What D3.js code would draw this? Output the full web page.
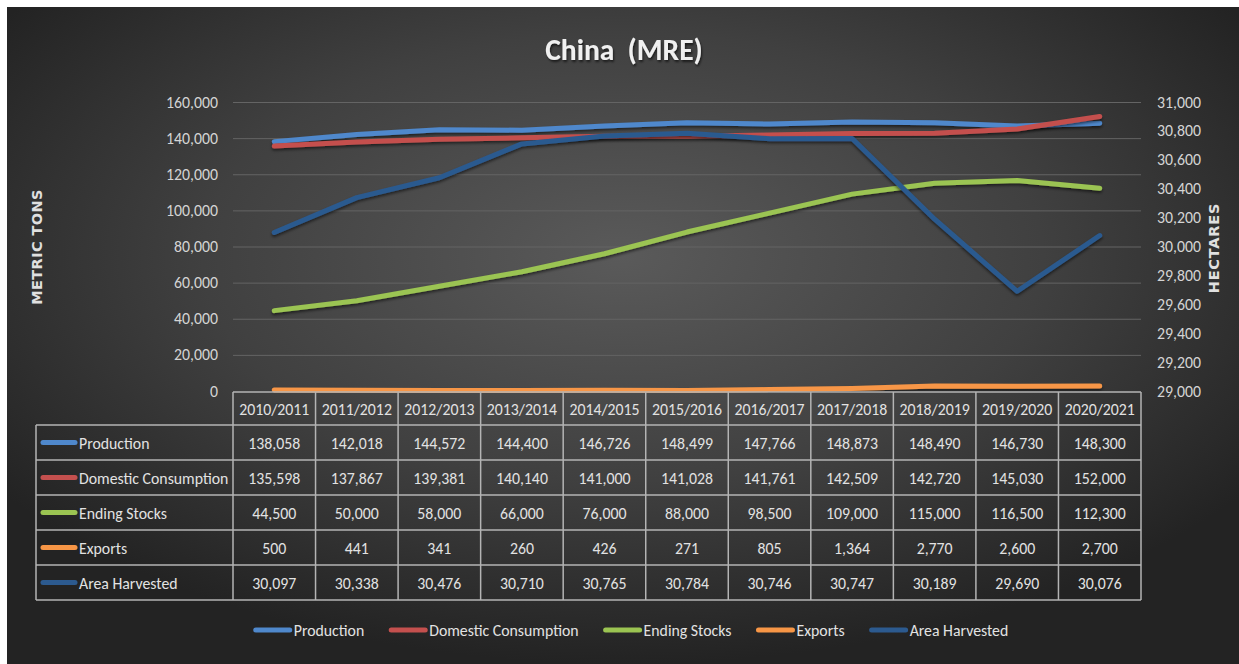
<!DOCTYPE html>
<html>
<head>
<meta charset="utf-8">
<script src="https://cdn.jsdelivr.net/npm/d3@7"></script>
<style>
  html, body { margin: 0; padding: 0; background: #ffffff; }
  svg { display: block; }
  text { font-family: Carlito, "Liberation Sans Narrow", Lato, Roboto, sans-serif; }
</style>
</head>
<body>
<svg id="chart" width="1239" height="664"></svg>
<script>
// Marketing years
const years = ["2010/2011","2011/2012","2012/2013","2013/2014","2014/2015","2015/2016",
               "2016/2017","2017/2018","2018/2019","2019/2020","2020/2021"];

// Metric tons (left axis)
const production  = [138058,142018,144572,144400,146726,148499,147766,148873,148490,146730,148300];
const consumption = [135598,137867,139381,140140,141000,141028,141761,142509,142720,145030,152000];
const stocks      = [44500,50000,58000,66000,76000,88000,98500,109000,115000,116500,112300];
const exportsMT   = [500,441,341,260,426,271,805,1364,2770,2600,2700];

// Hectares (right axis)
const areaHarvested = [30097,30338,30476,30710,30765,30784,30746,30747,30189,29690,30076];

const leftTicks  = [0,20000,40000,60000,80000,100000,120000,140000,160000];
const rightTicks = [29000,29200,29400,29600,29800,30000,30200,30400,30600,30800,31000];

const seriesNames  = ["Production","Domestic Consumption","Ending Stocks","Exports","Area Harvested"];
const seriesColors = ["#4f88cc","#c4504e","#9bc452","#f79646","#2c5a8f"];

const series = [
  { name: seriesNames[0], color: seriesColors[0], values: production,    axis: "left"  },
  { name: seriesNames[1], color: seriesColors[1], values: consumption,   axis: "left"  },
  { name: seriesNames[2], color: seriesColors[2], values: stocks,        axis: "left"  },
  { name: seriesNames[3], color: seriesColors[3], values: exportsMT,     axis: "left"  },
  { name: seriesNames[4], color: seriesColors[4], values: areaHarvested, axis: "right" }
];

const FONT = "Carlito, \"Liberation Sans Narrow\", Lato, Roboto, sans-serif";
const FS = 15.8;
const fmt = d3.format(",");
const svg = d3.select("#chart");
const defs = svg.append("defs");

// Dark radial background
const grad = defs.append("radialGradient").attr("id", "bg")
  .attr("cx", "50%").attr("cy", "38%").attr("r", "62%");
grad.append("stop").attr("offset", "0%").attr("stop-color", "#5a5a5a");
grad.append("stop").attr("offset", "55%").attr("stop-color", "#404040");
grad.append("stop").attr("offset", "100%").attr("stop-color", "#232323");

const shadow = defs.append("filter").attr("id", "shadow")
  .attr("x", "-5%").attr("y", "-50%").attr("width", "110%").attr("height", "200%");
shadow.append("feDropShadow").attr("dx", 0).attr("dy", 2).attr("stdDeviation", 1.5)
  .attr("flood-color", "#000").attr("flood-opacity", 0.55);

const textShadow = defs.append("filter").attr("id", "tshadow")
  .attr("x", "-10%").attr("y", "-30%").attr("width", "120%").attr("height", "160%");
textShadow.append("feDropShadow").attr("dx", 1).attr("dy", 2).attr("stdDeviation", 1)
  .attr("flood-color", "#000").attr("flood-opacity", 0.6);

svg.append("rect").attr("x", 7).attr("y", 7).attr("width", 1232).attr("height", 657)
  .attr("fill", "url(#bg)");

// Plot geometry
const plot = { left: 233, right: 1141, top: 102, bottom: 391 };

const x = d3.scaleBand().domain(years).range([plot.left, plot.right]).padding(0);
const yL = d3.scaleLinear().domain([0, 160000]).range([plot.bottom, plot.top]);
const yR = d3.scaleLinear().domain([29000, 31000]).range([plot.bottom, plot.top]);

// Title
svg.append("text")
  .attr("x", 624).attr("y", 60)
  .attr("text-anchor", "middle")
  .attr("font-size", 29.5).attr("font-weight", "bold")
  .attr("fill", "#f0f0f0")
  .attr("filter", "url(#tshadow)")
  .attr("xml:space", "preserve")
  .text("China  (MRE)");

// Gridlines
svg.append("g")
  .attr("transform", `translate(${plot.left},0)`)
  .call(d3.axisLeft(yL).tickValues(leftTicks.filter(d => d > 0))
          .tickSize(-(plot.right - plot.left)).tickFormat(""))
  .call(g => g.select(".domain").remove())
  .call(g => g.selectAll("line").attr("stroke", "#646464").attr("stroke-width", 1));

// Left axis labels
svg.append("g")
  .attr("transform", `translate(${plot.left - 15},0)`)
  .call(d3.axisLeft(yL).tickValues(leftTicks).tickSize(0).tickPadding(0).tickFormat(fmt))
  .call(g => g.select(".domain").remove())
  .call(g => g.selectAll("text")
    .attr("fill", "#d4d4d4").attr("font-size", FS)
    .style("font-family", FONT));

// Right axis labels
svg.append("g")
  .attr("transform", `translate(${plot.right + 16},0)`)
  .call(d3.axisRight(yR).tickValues(rightTicks).tickSize(0).tickPadding(0).tickFormat(fmt))
  .call(g => g.select(".domain").remove())
  .call(g => g.selectAll("text")
    .attr("fill", "#d4d4d4").attr("font-size", FS)
    .style("font-family", FONT));

// Axis titles
svg.append("text")
  .attr("transform", `translate(42,247) rotate(-90)`)
  .attr("text-anchor", "middle")
  .attr("font-size", 14.5).attr("font-weight", "bold")
  .attr("fill", "#e0e0e0")
  .style("font-family", "\"DejaVu Sans\", sans-serif")
  .attr("letter-spacing", 0.4)
  .text("METRIC TONS");

svg.append("text")
  .attr("transform", `translate(1219,248) rotate(-90)`)
  .attr("text-anchor", "middle")
  .attr("font-size", 14.5).attr("font-weight", "bold")
  .attr("fill", "#e0e0e0")
  .style("font-family", "\"DejaVu Sans\", sans-serif")
  .attr("letter-spacing", 0.8)
  .text("HECTARES");

// Series lines
const cx = d => x(d) + x.bandwidth() / 2;
const linesG = svg.append("g");
series.forEach(s => {
  const yScale = s.axis === "left" ? yL : yR;
  const line = d3.line()
    .x((v, i) => cx(years[i]))
    .y(v => yScale(v));
  linesG.append("path")
    .datum(s.values)
    .attr("d", line)
    .attr("fill", "none")
    .attr("stroke", s.color)
    .attr("stroke-width", 5)
    .attr("stroke-linecap", "round")
    .attr("stroke-linejoin", "round")
    .attr("filter", "url(#shadow)");
});

// Data table
const table = { left: 36, labelRight: plot.left, headerTop: 392, rowTop: 425, rowH: 35 };
const tableG = svg.append("g");
const borderColor = "#b4b4b4";
const nRows = series.length;
const tableBottom = table.rowTop + nRows * table.rowH;

// Horizontal borders
tableG.append("line")
  .attr("x1", plot.left).attr("x2", plot.right)
  .attr("y1", table.headerTop).attr("y2", table.headerTop)
  .attr("stroke", borderColor).attr("stroke-width", 1.5);
d3.range(nRows + 1).forEach(r => {
  const yy = table.rowTop + r * table.rowH;
  tableG.append("line")
    .attr("x1", table.left).attr("x2", plot.right)
    .attr("y1", yy).attr("y2", yy)
    .attr("stroke", borderColor).attr("stroke-width", 1.5);
});
// Vertical borders
tableG.append("line")
  .attr("x1", table.left).attr("x2", table.left)
  .attr("y1", table.rowTop).attr("y2", tableBottom)
  .attr("stroke", borderColor).attr("stroke-width", 1.5);
years.forEach(yr => {
  tableG.append("line")
    .attr("x1", x(yr)).attr("x2", x(yr))
    .attr("y1", table.headerTop).attr("y2", tableBottom)
    .attr("stroke", borderColor).attr("stroke-width", 1.5);
});
tableG.append("line")
  .attr("x1", plot.right).attr("x2", plot.right)
  .attr("y1", table.headerTop).attr("y2", tableBottom)
  .attr("stroke", borderColor).attr("stroke-width", 1.5);

// Header texts
tableG.selectAll("text.hdr").data(years).join("text")
  .attr("class", "hdr")
  .attr("x", d => cx(d))
  .attr("y", (table.headerTop + table.rowTop) / 2 + 6)
  .attr("text-anchor", "middle")
  .attr("font-size", FS).attr("fill", "#e2e2e2")
  .text(d => d);

// Rows
series.forEach((s, r) => {
  const yMid = table.rowTop + r * table.rowH + table.rowH / 2;
  tableG.append("line")
    .attr("x1", 43).attr("x2", 75)
    .attr("y1", yMid).attr("y2", yMid)
    .attr("stroke", s.color).attr("stroke-width", 5).attr("stroke-linecap", "round");
  tableG.append("text")
    .attr("x", 79).attr("y", yMid + 6)
    .attr("font-size", FS).attr("fill", "#e2e2e2")
    .text(s.name);
  tableG.selectAll(null).data(s.values).join("text")
    .attr("x", (v, i) => cx(years[i]))
    .attr("y", yMid + 6)
    .attr("text-anchor", "middle")
    .attr("font-size", FS).attr("fill", "#e2e2e2")
    .text(v => fmt(v));
});

// Legend
const legendG = svg.append("g");
const legendY = 630;
let cursor = 0;
series.forEach(s => {
  const g = legendG.append("g");
  g.append("line")
    .attr("x1", cursor + 2).attr("x2", cursor + 36)
    .attr("y1", legendY).attr("y2", legendY)
    .attr("stroke", s.color).attr("stroke-width", 5).attr("stroke-linecap", "round");
  const t = g.append("text")
    .attr("x", cursor + 40).attr("y", legendY + 6)
    .attr("font-size", FS).attr("fill", "#e2e2e2")
    .text(s.name);
  const w = t.node().getComputedTextLength();
  cursor += 40 + w + 25;
});
const totalW = cursor - 25;
legendG.attr("transform", `translate(${631 - totalW / 2},0)`);
</script>
</body>
</html>
